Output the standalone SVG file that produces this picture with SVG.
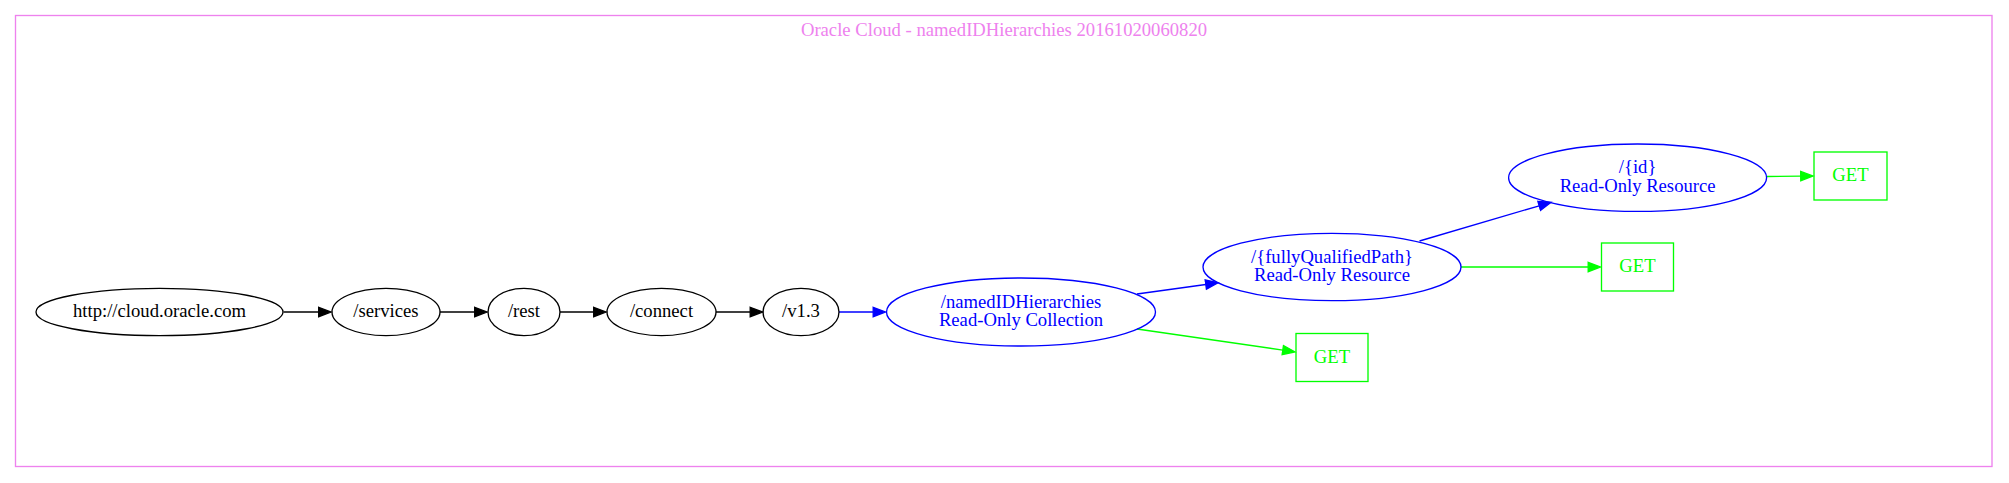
<svg xmlns="http://www.w3.org/2000/svg" width="2009" height="483" viewBox="0 0 2009 483">
<style>
text{font-family:"Liberation Serif","Times New Roman",serif;font-size:18.67px;text-anchor:middle}
.k ellipse{fill:none;stroke:#000;stroke-width:1.33}
.k text{fill:#000}
.b ellipse{fill:none;stroke:#0000ff;stroke-width:1.33}
.b text{fill:#0000ff}
.g rect{fill:none;stroke:#00ff00;stroke-width:1.33}
.g text{fill:#00ff00}
.e{fill:none;stroke-width:1.33}
</style>
<defs>
<marker id="ak" markerUnits="userSpaceOnUse" markerWidth="16" markerHeight="14" refX="1" refY="6" orient="auto"><path d="M1,1.33L13.3,6L1,10.67z" fill="#000" stroke="#000" stroke-width="1.33"/></marker>
<marker id="ab" markerUnits="userSpaceOnUse" markerWidth="16" markerHeight="14" refX="1" refY="6" orient="auto"><path d="M1,1.33L13.3,6L1,10.67z" fill="#0000ff" stroke="#0000ff" stroke-width="1.33"/></marker>
<marker id="ag" markerUnits="userSpaceOnUse" markerWidth="16" markerHeight="14" refX="1" refY="6" orient="auto"><path d="M1,1.33L13.3,6L1,10.67z" fill="#00ff00" stroke="#00ff00" stroke-width="1.33"/></marker>
</defs>
<rect width="2009" height="483" fill="#fff"/>
<g id="cluster">
<rect x="15.5" y="15.5" width="1976.5" height="451" fill="none" stroke="#ee82ee" stroke-width="1.33"/>
<text x="1004" y="36" fill="#ee82ee">Oracle Cloud - namedIDHierarchies 20161020060820</text>
</g>
<g id="connectors">
<path class="e" stroke="#000" marker-end="url(#ak)" d="M283.5,312L318.7,312"/>
<path class="e" stroke="#000" marker-end="url(#ak)" d="M440,312L474.7,312"/>
<path class="e" stroke="#000" marker-end="url(#ak)" d="M560,312L593.7,312"/>
<path class="e" stroke="#000" marker-end="url(#ak)" d="M716,312L750.2,312"/>
<path class="e" stroke="#0000ff" marker-end="url(#ab)" d="M839,312L873.2,312"/>
<path class="e" stroke="#0000ff" marker-end="url(#ab)" d="M1137,294L1205.8,284.5"/>
<path class="e" stroke="#00ff00" marker-end="url(#ag)" d="M1137,329L1282.8,350.1"/>
<path class="e" stroke="#00ff00" marker-end="url(#ag)" d="M1461,267L1588.2,267"/>
<path class="e" stroke="#0000ff" marker-end="url(#ab)" d="M1419.5,241L1539.2,205.8"/>
<path class="e" stroke="#00ff00" marker-end="url(#ag)" d="M1767,176.5L1800.7,176.1"/>
</g>
<g id="root" class="k"><ellipse cx="159.5" cy="312" rx="123.5" ry="23.7"/><text x="159.5" y="317">http://cloud.oracle.com</text></g>
<g id="services" class="k"><ellipse cx="386" cy="312" rx="54" ry="23.7"/><text x="386" y="317">/services</text></g>
<g id="rest" class="k"><ellipse cx="524" cy="312" rx="36" ry="23.7"/><text x="524" y="317">/rest</text></g>
<g id="connect" class="k"><ellipse cx="661.5" cy="312" rx="54.5" ry="23.7"/><text x="661.5" y="317">/connect</text></g>
<g id="v13" class="k"><ellipse cx="801" cy="312" rx="38" ry="23.7"/><text x="801" y="317">/v1.3</text></g>
<g id="namedIDHierarchies" class="b"><ellipse cx="1021" cy="312" rx="134.5" ry="34"/><text x="1021" y="307.5">/namedIDHierarchies</text><text x="1021" y="326">Read-Only Collection</text></g>
<g id="get1" class="g"><rect x="1296" y="333.5" width="72" height="48"/><text x="1332" y="362.5">GET</text></g>
<g id="fullyQualifiedPath" class="b"><ellipse cx="1332" cy="267" rx="129" ry="33.7"/><text x="1332" y="262.5">/{fullyQualifiedPath}</text><text x="1332" y="281">Read-Only Resource</text></g>
<g id="get2" class="g"><rect x="1601.5" y="243" width="72" height="48"/><text x="1637.5" y="272">GET</text></g>
<g id="id" class="b"><ellipse cx="1637.6" cy="177.7" rx="129" ry="33.7"/><text x="1637.6" y="173.2">/{id}</text><text x="1637.6" y="191.7">Read-Only Resource</text></g>
<g id="get3" class="g"><rect x="1814" y="152" width="73" height="48"/><text x="1850.5" y="181">GET</text></g>
</svg>
